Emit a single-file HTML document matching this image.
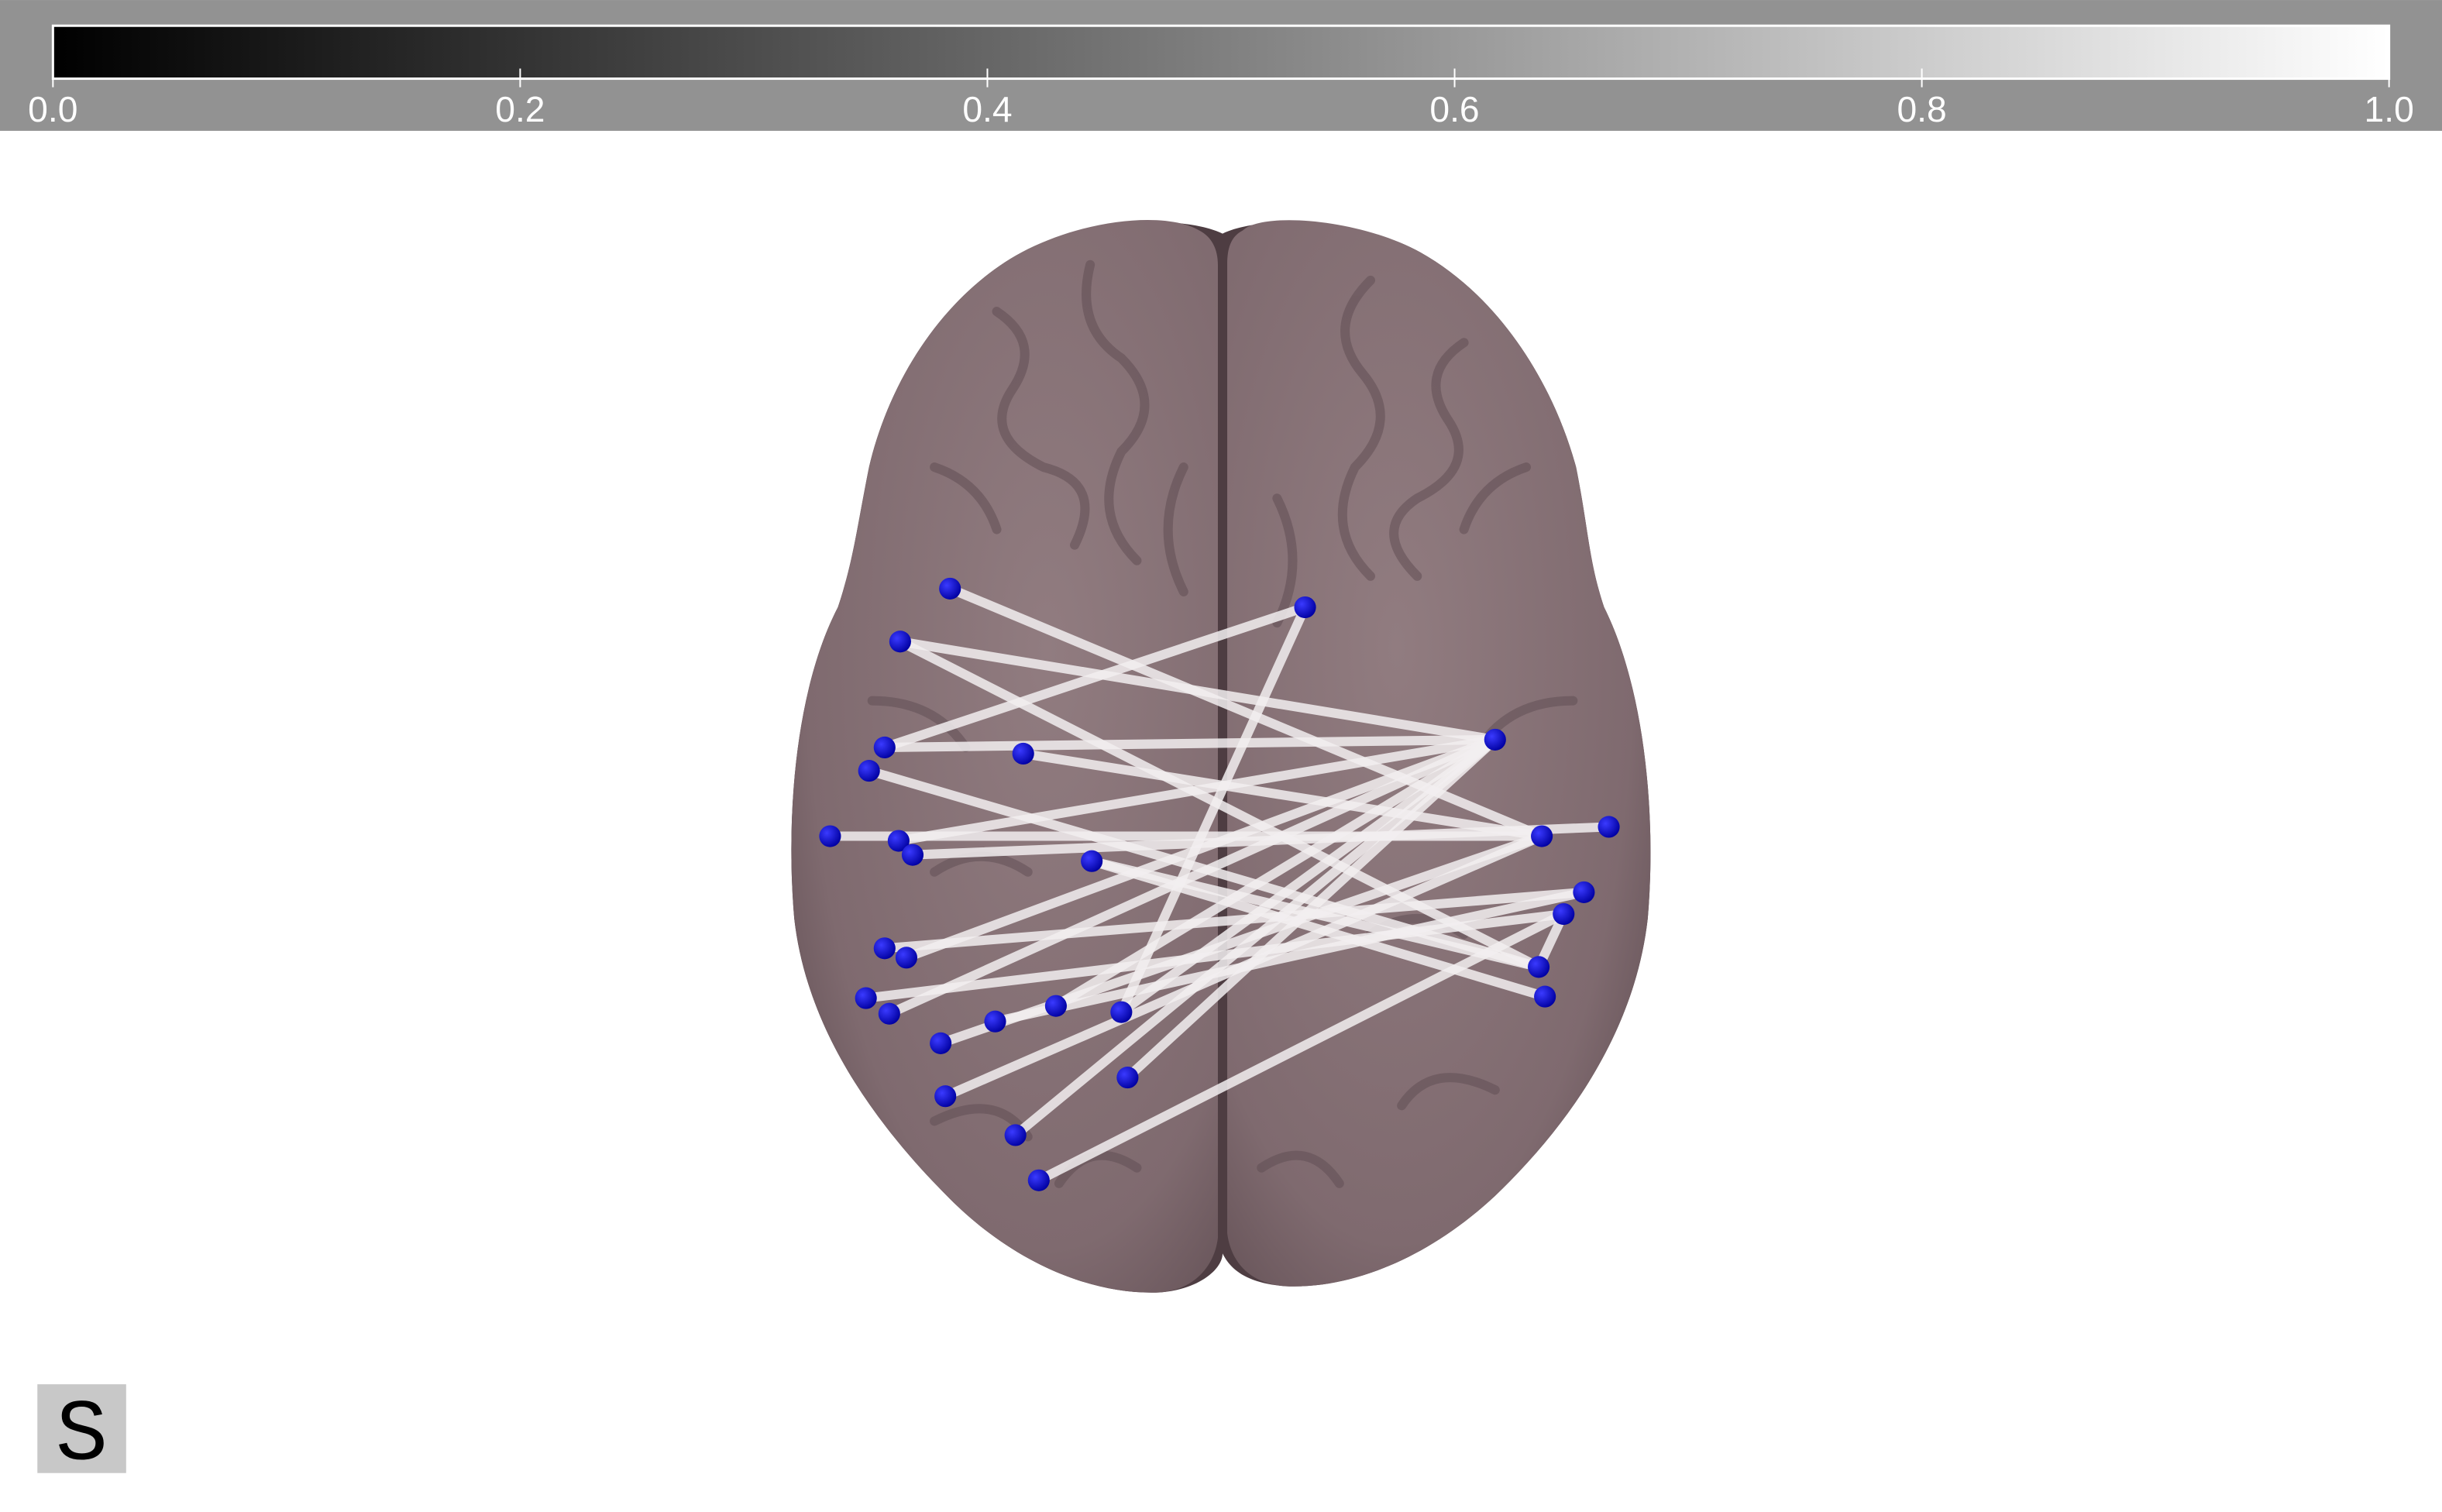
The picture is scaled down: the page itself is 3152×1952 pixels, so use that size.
<!DOCTYPE html>
<html><head><meta charset="utf-8">
<style>
html,body{margin:0;padding:0;background:#fff;}
svg{display:block;}
</style></head>
<body>
<svg id="chart" width="3152" height="1952" viewBox="0 0 1568 971" xmlns="http://www.w3.org/2000/svg">
<defs>
<linearGradient id="cbar" x1="0" x2="1" y1="0" y2="0"><stop offset="0" stop-color="#000"/><stop offset="1" stop-color="#fff"/></linearGradient>
<radialGradient id="brainL" cx="0.6" cy="0.4" r="0.8"><stop offset="0" stop-color="#917c80"/><stop offset="0.7" stop-color="#7f6a6f"/><stop offset="1" stop-color="#5c4a4f"/></radialGradient>
<radialGradient id="brainR" cx="0.4" cy="0.4" r="0.8"><stop offset="0" stop-color="#917c80"/><stop offset="0.7" stop-color="#7f6a6f"/><stop offset="1" stop-color="#5c4a4f"/></radialGradient>
<radialGradient id="nodeG" cx="0.35" cy="0.35" r="0.7"><stop offset="0" stop-color="#3a3aff"/><stop offset="1" stop-color="#0000a0"/></radialGradient>
</defs>
<rect x="0" y="0" width="1568" height="84" fill="#929292"/>
<rect x="34" y="16.5" width="1500" height="34" fill="url(#cbar)" stroke="#fff" stroke-width="1.5"/>
<g id="cticks"></g>
<g>
<path d="M785,150 C760,138 700,140 660,160 C610,185 572,240 558,300 C550,340 548,360 538,390 C512,440 504,520 510,590 C518,660 560,720 610,770 C650,810 700,832 745,830 C770,828 785,815 785,805 C790,815 800,824 825,826 C865,828 915,810 960,768 C1010,720 1050,660 1058,590 C1064,520 1055,440 1030,390 C1020,360 1020,340 1012,300 C997,245 962,190 912,162 C872,140 810,138 785,150 Z" fill="#4e3d42"/>
<path d="M770,148 C750,136 700,140 660,160 C610,185 572,240 558,300 C550,340 548,360 538,390 C512,440 504,520 510,590 C518,660 560,720 610,770 C650,810 700,832 745,830 C768,828 780,812 782,795 L782,170 C782,160 778,152 770,148 Z" fill="url(#brainL)"/>
<path d="M798,148 C810,136 872,140 912,162 C962,190 997,245 1012,300 C1020,340 1020,360 1030,390 C1055,440 1064,520 1058,590 C1050,660 1010,720 960,768 C915,810 865,828 825,826 C800,824 790,808 788,792 L788,170 C788,160 790,152 798,148 Z" fill="url(#brainR)"/>
<g stroke="#5e4b51" stroke-width="6" fill="none" opacity="0.5" stroke-linecap="round">
<path d="M640,200 q30,20 10,50 q-20,30 20,50 q40,10 20,50"/><path d="M700,170 q-10,40 20,60 q30,30 0,60 q-20,40 10,70"/>
<path d="M880,180 q-30,30 -5,60 q25,30 -5,60 q-20,40 10,70"/><path d="M940,220 q-30,20 -10,50 q20,30 -20,50 q-30,20 0,50"/>
<path d="M600,300 q30,10 40,40"/><path d="M980,300 q-30,10 -40,40"/><path d="M560,450 q40,0 60,30"/><path d="M1010,450 q-40,0 -60,30"/>
<path d="M600,720 q40,-20 60,10"/><path d="M960,700 q-40,-20 -60,10"/><path d="M680,760 q20,-30 50,-10"/><path d="M860,760 q-20,-30 -50,-10"/>
<path d="M600,560 q30,-20 60,0"/><path d="M940,600 q-30,-20 -60,0"/><path d="M760,300 q-20,40 0,80"/><path d="M820,320 q20,40 0,80"/>
</g>
</g>
<g id="edges"></g>
<g id="nodes"></g>
<rect x="24" y="889" width="57" height="57" fill="#c8c8c8"/>
<text x="52.5" y="937" text-anchor="middle" font-family="Liberation Mono, monospace" font-size="56" fill="#000">S</text>
</svg>
<script>
const tickValues = [0.0, 0.2, 0.4, 0.6, 0.8, 1.0];
const tickLabels = ["0.0","0.2","0.4","0.6","0.8","1.0"];
const nodeX = [610,578,838,568,558,657,960,533,577,586,701,990,1033,1017,1004,568,582,988,992,556,571,604,639,678,720,724,607,652,667];
const nodeY = [378,412,390,480,495,484,475,537,540,549,553,537,531,573,587,609,615,621,640,641,651,670,656,646,650,692,704,729,758];
const edgeFrom = [0,1,1,2,2,5,4,7,8,9,10,10,15,16,19,20,21,22,23,26,27,28,25,17,3,24];
const edgeTo   = [11,6,17,3,24,11,17,11,6,12,17,18,13,6,14,6,11,13,6,11,6,14,6,14,6,6];
const NS="http://www.w3.org/2000/svg";
const cx = v => 34 + v*1500;
const ct=document.getElementById('cticks');
tickValues.forEach((v,i)=>{
  const l=document.createElementNS(NS,'line');
  l.setAttribute('x1',cx(v));l.setAttribute('x2',cx(v));l.setAttribute('y1',44);l.setAttribute('y2',56);
  l.setAttribute('stroke','#fff');l.setAttribute('stroke-width','1');
  
  
  ct.appendChild(l);
  const t=document.createElementNS(NS,'text');
  t.setAttribute('x',cx(v));t.setAttribute('y',78);
  t.setAttribute('text-anchor', i===0?'start':(i===tickValues.length-1?'end':'middle'));
  if(i===0) t.setAttribute('x',cx(v)-16);
  if(i===tickValues.length-1) t.setAttribute('x',cx(v)+16);
  t.setAttribute('fill','#fff');t.setAttribute('font-family','Liberation Sans, sans-serif');t.setAttribute('font-size','23');
  t.textContent=tickLabels[i];
  
  
  ct.appendChild(t);
});
const eg=document.getElementById('edges');
edgeFrom.forEach((a,i)=>{
  const b=edgeTo[i];
  const l=document.createElementNS(NS,'line');
  l.setAttribute('x1',nodeX[a]);l.setAttribute('y1',nodeY[a]);l.setAttribute('x2',nodeX[b]);l.setAttribute('y2',nodeY[b]);
  l.setAttribute('stroke','#f2eef0');l.setAttribute('stroke-width','6');l.setAttribute('stroke-opacity','0.85');l.setAttribute('stroke-linecap','round');
  
  
  eg.appendChild(l);
});
const ng=document.getElementById('nodes');
nodeX.forEach((x,i)=>{
  const c=document.createElementNS(NS,'circle');
  c.setAttribute('cx',x);c.setAttribute('cy',nodeY[i]);c.setAttribute('r','7');c.setAttribute('fill','url(#nodeG)');
  
  
  ng.appendChild(c);
});
</script>
</body></html>
